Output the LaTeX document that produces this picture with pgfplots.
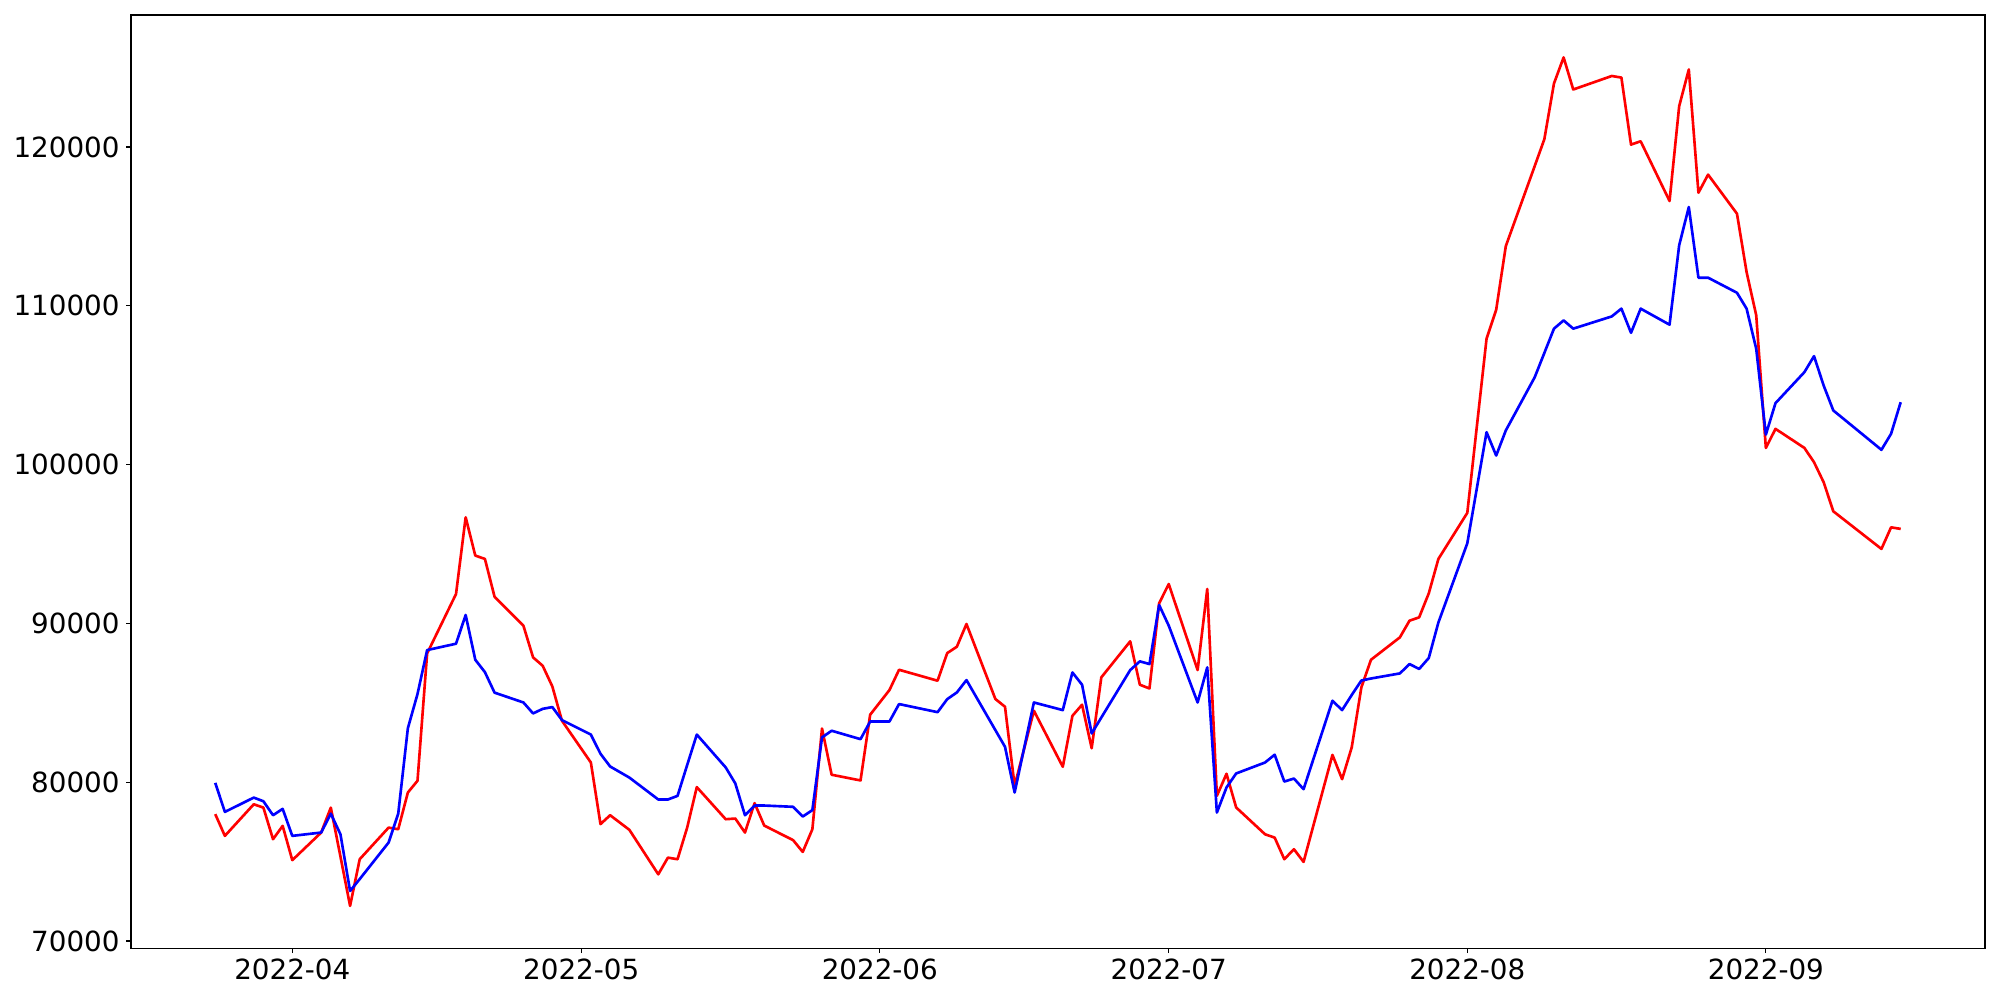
\documentclass[border=0pt]{standalone}
\usepackage{pgfplots}
\pgfplotsset{compat=1.18}
\usepgfplotslibrary{dateplot}
\usepackage{pgfplotstable}
\usepackage{fontspec}
\setmainfont{DejaVu Sans}

% daily closing values, red and blue series
\pgfplotstableread{
date red blue
2022-03-24 77990 79960
2022-03-25 76620 78130
2022-03-28 78610 79030
2022-03-29 78400 78800
2022-03-30 76410 77920
2022-03-31 77250 78320
2022-04-01 75090 76620
2022-04-04 76830 76830
2022-04-05 78400 78020
2022-04-06 75320 76720
2022-04-07 72210 73150
2022-04-08 75150 73900
2022-04-11 77140 76200
2022-04-12 77040 78020
2022-04-13 79350 83400
2022-04-14 80090 85550
2022-04-15 88110 88320
2022-04-18 91850 88720
2022-04-19 96680 90530
2022-04-20 94270 87710
2022-04-21 94060 86930
2022-04-22 91680 85640
2022-04-25 89850 85020
2022-04-26 87860 84330
2022-04-27 87330 84620
2022-04-28 86030 84730
2022-04-29 83870 83910
2022-05-02 81240 83000
2022-05-03 77360 81790
2022-05-04 77920 80990
2022-05-06 77000 80290
2022-05-09 74200 78910
2022-05-10 75250 78910
2022-05-11 75150 79140
2022-05-12 77140 81080
2022-05-13 79690 83000
2022-05-16 77670 80930
2022-05-17 77710 79920
2022-05-18 76830 77920
2022-05-19 78680 78530
2022-05-20 77270 78530
2022-05-23 76350 78450
2022-05-24 75610 77840
2022-05-25 77040 78240
2022-05-26 83380 82820
2022-05-27 80470 83240
2022-05-30 80110 82710
2022-05-31 84250 83820
2022-06-02 85800 83820
2022-06-03 87080 84920
2022-06-07 86390 84410
2022-06-08 88130 85230
2022-06-09 88530 85650
2022-06-10 89960 86430
2022-06-13 85240 83280
2022-06-14 84750 82230
2022-06-15 79770 79350
2022-06-17 84500 85020
2022-06-20 80970 84540
2022-06-21 84180 86910
2022-06-22 84880 86140
2022-06-23 82140 83070
2022-06-24 86600 84070
2022-06-27 88870 87060
2022-06-28 86140 87610
2022-06-29 85900 87440
2022-06-30 91260 91160
2022-07-01 92480 89860
2022-07-04 87060 85020
2022-07-05 92170 87230
2022-07-06 79140 78090
2022-07-07 80530 79670
2022-07-08 78410 80550
2022-07-11 76720 81240
2022-07-12 76510 81730
2022-07-13 75150 80040
2022-07-14 75780 80230
2022-07-15 74980 79560
2022-07-18 81720 85130
2022-07-19 80190 84540
2022-07-20 82190 85490
2022-07-21 85970 86400
2022-07-22 87710 86530
2022-07-25 89120 86850
2022-07-26 90170 87440
2022-07-27 90380 87130
2022-07-28 91890 87820
2022-07-29 94060 90060
2022-08-01 96960 95040
2022-08-03 107930 102040
2022-08-04 109750 100570
2022-08-05 113760 102150
2022-08-08 118800 105500
2022-08-09 120490 107030
2022-08-10 124000 108560
2022-08-11 125640 109080
2022-08-12 123620 108560
2022-08-16 124470 109330
2022-08-17 124370 109820
2022-08-18 120150 108300
2022-08-19 120360 109820
2022-08-22 116600 108810
2022-08-23 122570 113810
2022-08-24 124880 116220
2022-08-25 117120 111770
2022-08-26 118260 111770
2022-08-29 115800 110820
2022-08-30 112120 109820
2022-08-31 109400 107290
2022-09-01 101050 101890
2022-09-02 102250 103870
2022-09-05 101050 105820
2022-09-06 100150 106830
2022-09-07 98890 104980
2022-09-08 97060 103410
2022-09-13 94690 100930
2022-09-14 96050 101940
2022-09-15 95950 103930
}\prices

\begin{document}
\begin{tikzpicture}
\path[use as bounding box] (-94.3pt,-37.2pt) rectangle (1345.7pt,682.8pt);
\begin{axis}[
  at={(0,0)}, anchor=south west,
  scale only axis,
  width=1334.9pt, height=672pt,
  date coordinates in=x,
  enlarge x limits=0.05,
  enlarge y limits=0.05,
  xtick={2022-04-01,2022-05-01,2022-06-01,2022-07-01,2022-08-01,2022-09-01},
  xticklabel={\year-\month},
  ytick={70000,80000,90000,100000,110000,120000},
  scaled y ticks=false,
  /pgf/number format/assume math mode=true,
  yticklabel style={/pgf/number format/fixed, /pgf/number format/1000 sep={}},
  tick label style={font=\fontsize{20}{24}\selectfont, black},
  xticklabel style={inner sep=0pt, yshift=-3.7pt},
  yticklabel style={inner sep=0pt, xshift=-4.5pt},
  tick align=outside,
  tick pos=left,
  major tick length=3.5pt,
  major tick style={line width=0.8pt, black},
  axis line style={line width=0.8pt, black},
]
  \addplot[red, line width=1.9pt, line join=round] table[x=date, y=red] {\prices};
  \addplot[blue, line width=1.9pt, line join=round] table[x=date, y=blue] {\prices};
\end{axis}
\end{tikzpicture}
\end{document}
